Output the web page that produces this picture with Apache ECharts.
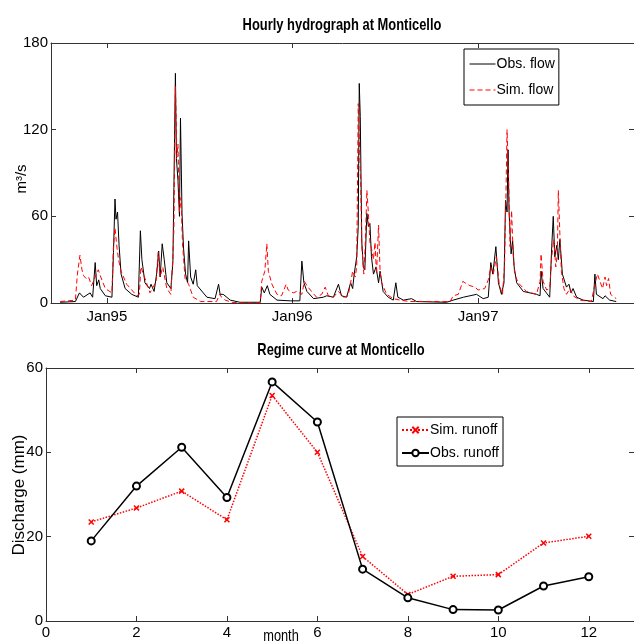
<!DOCTYPE html>
<html>
<head>
<meta charset="utf-8">
<script src="https://cdn.jsdelivr.net/npm/echarts@6/dist/echarts.min.js"></script>
<style>
html,body{margin:0;padding:0;background:#fff;}
#c{width:634px;height:644px;}
</style>
</head>
<body>
<div id="c"></div>
<script>
// ---- Hourly hydrograph (days since 1994-10-01, flow in m3/s) ----
const obsDays = [0,30,38,46,59,64,69,72,76,79,89,102,105,108,110,113,116,120,128,141,154,158,161,167,176,179,185,190,194,197,201,205,210,218,222,224,227,229,232,235,237,240,243,247,251,253,257,262,267,270,272,289,305,312,315,321,335,354,394,397,402,408,413,427,453,472,476,480,486,499,518,525,538,548,554,564,572,576,579,584,587,589,591,594,597,600,604,607,610,613,617,622,627,630,636,646,656,661,665,676,692,702,761,774,794,807,820,823,833,843,848,852,858,863,869,874,877,880,882,884,888,891,894,899,912,938,945,947,951,964,968,971,974,978,981,984,989,997,1002,1006,1010,1017,1030,1050,1053,1056,1069,1073,1082,1095];
const obsFlow = [0.5,1,7,4,7,4,28,12,16,10,5,4,35,72,58,63,40,20,10,6,4,50,30,14,10,13,8,20,36,18,41,30,14,10,28,80,159,100,85,60,128,62,38,20,14,43,18,13,23,12,11,4,3,13,6,6,2,0.5,0.5,11,7,12,6,2,1.5,1.5,29,14,8,3,4,5,4,13,5,4,14,10,20,32,53,152,129,42,25,23,62,53,55,32,20,25,14,22,8,4,2,14,4,2,3,1,0.5,2,4,5,6,6,3,4,28,20,39,14,6,14,71,63,106,63,34,43,25,14,8,6,5,22,10,4,39,60,32,40,30,44,20,11,13,7,10,4,2,1,20,6,3,5,2,1];
const simDays = [0,30,34,39,43,46,51,56,62,69,75,80,89,102,105,108,112,115,120,131,151,156,159,164,177,189,193,197,202,210,218,222,224,227,230,232,235,238,241,246,253,256,262,272,276,308,314,318,325,340,394,397,403,407,410,417,427,436,445,449,459,466,476,481,486,495,505,515,522,528,538,548,558,567,572,576,581,584,587,589,592,594,598,601,604,607,610,613,617,620,623,627,630,633,643,656,669,689,768,774,784,793,797,807,817,823,836,843,848,853,859,865,871,875,878,880,883,886,889,892,895,902,918,938,945,947,951,958,964,968,972,976,979,981,984,987,992,997,1004,1010,1023,1046,1053,1058,1063,1068,1073,1076,1080,1084,1095];
const simFlow = [1,2,20,33,23,19,17,18,12,18,23,18,10,7,39,52,38,30,22,13,5,6,25,20,7,15,35,18,25,10,6,32,52,150,101,110,63,73,41,17,13,10,4,2,1,1,6,4,2,0.3,0.3,15,22,41,22,13,6,5,13,9,7,8,6,15,12,8,4,6,11,5,4,8,4,5,14,22,18,25,138,115,80,40,20,42,78,62,42,38,30,42,20,54,22,14,6,3,2,1,1,5,6,15,14,12,11,9,10,16,25,20,32,12,6,25,78,120,86,39,64,34,20,14,8,6,15,34,15,9,10,32,44,25,34,78,48,22,10,6,10,5,2,1,13,20,15,10,18,12,17,6,3];
const yearTickDays = [92, 457, 823];
const yearTickLabels = ['Jan95', 'Jan96', 'Jan97'];

// ---- Regime curve (monthly discharge, mm) ----
const months = [1,2,3,4,5,6,7,8,9,10,11,12];
const simRunoff = [23.5,26.8,30.8,24.0,53.5,40.0,15.3,6.3,10.6,11.0,18.5,20.1];
const obsRunoff = [19.0,32.0,41.2,29.3,56.7,47.2,12.3,5.5,2.7,2.6,8.3,10.5];

const SANS = "'Liberation Sans',Arial,sans-serif";
const AXC = '#333';
const TICKFS = 15;

function xAx(grid, pos, extra) {
  return Object.assign({
    gridIndex: grid, type: 'value', position: pos,
    axisLine: { show: true, onZero: false, lineStyle: { color: AXC, width: 1 } },
    axisTick: { show: true, inside: true, length: 5, lineStyle: { color: AXC } },
    axisLabel: { show: pos === 'bottom', color: '#000', fontSize: TICKFS, fontFamily: SANS },
    splitLine: { show: false }
  }, extra);
}
function yAx(grid, pos, extra) {
  return Object.assign({
    gridIndex: grid, type: 'value', position: pos,
    axisLine: { show: true, onZero: false, lineStyle: { color: AXC, width: 1 } },
    axisTick: { show: true, inside: true, length: 5, lineStyle: { color: AXC } },
    axisLabel: { show: pos === 'left', color: '#000', fontSize: TICKFS, fontFamily: SANS, margin: 3 },
    splitLine: { show: false }
  }, extra);
}

const chart = echarts.init(document.getElementById('c'), null, { renderer: 'canvas' });

const topX = { min: -18, max: 1130 };
const xTop0 = xAx(0, 'bottom', topX);
xTop0.axisTick.customValues = yearTickDays;
xTop0.axisLabel.customValues = yearTickDays;
xTop0.axisLabel.margin = 6;
xTop0.axisLabel.formatter = function (v) { const i = yearTickDays.indexOf(v); return i >= 0 ? yearTickLabels[i] : ''; };
const xTop1 = xAx(0, 'top', topX);
xTop1.axisTick.customValues = yearTickDays;

const botX = { min: 0, max: 13, interval: 2 };
const xBot0 = xAx(1, 'bottom', botX);
xBot0.axisLabel.showMaxLabel = false;
xBot0.axisLabel.margin = 4;
const xBot1 = xAx(1, 'top', botX);

const legendText = { fontSize: 14, fontFamily: SANS, color: '#000', lineHeight: 20, padding: [0, 0, 0, -4] };

const option = {
  animation: false,
  backgroundColor: '#fff',
  grid: [
    { left: 51, right: 0, top: 43, height: 260 },
    { left: 46, right: -1, top: 368, height: 253 }
  ],
  xAxis: [xTop0, xTop1, xBot0, xBot1],
  yAxis: [
    yAx(0, 'left', { min: 0, max: 180, interval: 60 }),
    yAx(0, 'right', { min: 0, max: 180, interval: 60 }),
    yAx(1, 'left', { min: 0, max: 60, interval: 20 }),
    yAx(1, 'right', { min: 0, max: 60, interval: 20 })
  ],
  legend: [
    {
      data: ['Obs. flow', 'Sim. flow'], orient: 'vertical', left: 464, top: 49,
      padding: [4, 4, 4, 5], itemGap: 4, itemWidth: 26, itemHeight: 10,
      borderColor: '#000', borderWidth: 1, backgroundColor: '#fff', borderRadius: 0,
      itemStyle: { opacity: 0 },
      lineStyle: { width: 1 },
      textStyle: Object.assign({}, legendText, { lineHeight: 22 }),
      selectedMode: false
    },
    {
      data: ['Sim. runoff', 'Obs. runoff'], orient: 'vertical', left: 397, top: 417,
      padding: [3, 4, 3, 4], itemGap: 3, itemWidth: 27, itemHeight: 8,
      borderColor: '#000', borderWidth: 1, backgroundColor: '#fff', borderRadius: 0,
      textStyle: legendText,
      selectedMode: false
    }
  ],
  series: [
    {
      name: 'Obs. flow', type: 'line', xAxisIndex: 0, yAxisIndex: 0,
      data: obsDays.map((d, i) => [d, obsFlow[i]]),
      symbol: 'none', showSymbol: false,
      lineStyle: { color: '#000', width: 1 }, itemStyle: { color: '#000' }
    },
    {
      name: 'Sim. flow', type: 'line', xAxisIndex: 0, yAxisIndex: 0,
      data: simDays.map((d, i) => [d, simFlow[i]]),
      symbol: 'none', showSymbol: false,
      lineStyle: { color: '#ff0000', width: 1, type: [5, 3] }, itemStyle: { color: '#ff0000' }
    },
    {
      name: 'Sim. runoff', type: 'line', xAxisIndex: 2, yAxisIndex: 2,
      data: months.map((m, i) => [m, simRunoff[i]]),
      symbol: 'path://M0,0L10,10M10,0L0,10', symbolSize: 5, showSymbol: true,
      lineStyle: { color: '#ff0000', width: 1.5, type: 'dotted' },
      itemStyle: { color: '#ff0000', borderColor: '#ff0000', borderWidth: 1.5 }
    },
    {
      name: 'Obs. runoff', type: 'line', xAxisIndex: 2, yAxisIndex: 2,
      data: months.map((m, i) => [m, obsRunoff[i]]),
      symbol: 'emptyCircle', symbolSize: 7, showSymbol: true,
      lineStyle: { color: '#000', width: 1.5 },
      itemStyle: { color: '#000', borderColor: '#000', borderWidth: 1 }
    }
  ],
  graphic: [
    { type: 'text', x: 342, y: 25, scaleX: 0.76,
      style: { text: 'Hourly hydrograph at Monticello', font: 'bold 17px ' + SANS, fill: '#000', align: 'center', verticalAlign: 'middle' } },
    { type: 'text', x: 341, y: 350, scaleX: 0.76,
      style: { text: 'Regime curve at Monticello', font: 'bold 17px ' + SANS, fill: '#000', align: 'center', verticalAlign: 'middle' } },
    { type: 'text', x: 22, y: 179, rotation: Math.PI / 2,
      style: { text: 'm³/s', font: '15px ' + SANS, fill: '#000', align: 'center', verticalAlign: 'middle' } },
    { type: 'text', x: 19, y: 495, rotation: Math.PI / 2,
      style: { text: 'Discharge (mm)', font: '17px ' + SANS, fill: '#000', align: 'center', verticalAlign: 'middle' } },
    { type: 'text', x: 281, y: 637, scaleX: 0.8,
      style: { text: 'month', font: '16px ' + SANS, fill: '#000', align: 'center', verticalAlign: 'middle' } }
  ]
};
chart.setOption(option);
</script>
</body>
</html>
